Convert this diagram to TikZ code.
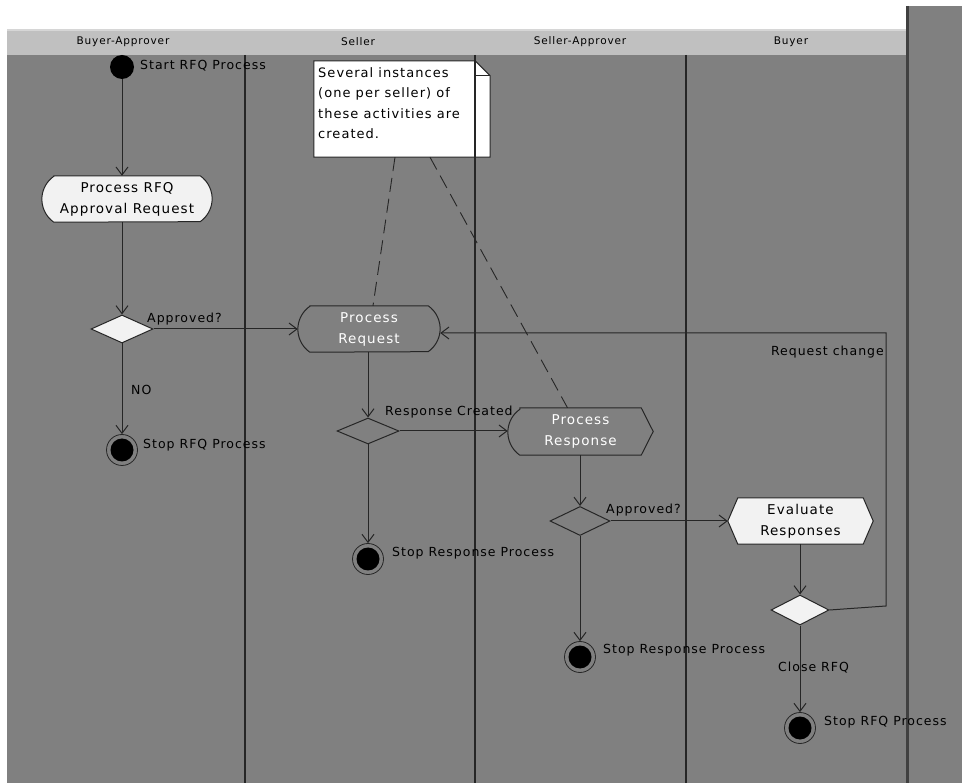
\documentclass[tikz,border=0pt]{standalone}
\usepackage{fontspec}
\setmainfont{DejaVu Sans}[LetterSpace=8]
\usetikzlibrary{arrows.meta,shapes.geometric}

\definecolor{canvas}{HTML}{808080}
\definecolor{headband}{HTML}{C0C0C0}
\definecolor{headhi}{HTML}{D6D6D6}
\definecolor{ink}{HTML}{262626}
\definecolor{edge}{HTML}{404040}
\definecolor{paper}{HTML}{F2F2F2}

\begin{document}
\begin{tikzpicture}[x=1pt,y=-1pt,
  flow/.style={draw=ink, line width=1pt, -{Straight Barb[length=8pt,width=12pt]}},
  lane/.style={draw=black!85, line width=1.2pt},
  frame/.style 2 args={rectangle, inner sep=0pt, minimum width=#1, minimum height=#2},
  actwhite/.style={draw=ink, line width=1pt, fill=paper},
  actgray/.style={draw=ink, line width=1pt, fill=canvas},
  acttext/.style={inner sep=0pt, align=center, font=\fontsize{13.5}{21}\selectfont},
  gate/.style={diamond, draw=ink, line width=1pt, inner sep=0pt},
  startmark/.style={circle, fill=black, inner sep=0pt, minimum size=24pt},
  stopmark/.style={circle, draw=ink, line width=0.8pt, inner sep=0pt, minimum size=31pt},
  lbl/.style={inner sep=0pt, anchor=west, text=black, font=\fontsize{12.5}{15}\selectfont},
  lanehead/.style={inner sep=0pt, text=black, font=\fontsize{10.5}{12}\selectfont},
  notetext/.style={anchor=north west, align=left, inner sep=0pt, font=\fontsize{13}{20.5}\selectfont},
  dashlink/.style={draw=ink, line width=0.9pt, dash pattern=on 14pt off 7pt}
]
\useasboundingbox (0,0) rectangle (962,783);
\fill[white] (0,0) rectangle (962,783);

% swimlane canvas and header band
\fill[canvas] (7,55) rectangle (906,783);
\fill[canvas] (906,6) rectangle (962,783);
\fill[headband] (7,29) rectangle (906,55);
\fill[headhi] (7,29) rectangle (906,31);
\draw[edge, line width=2.5pt] (907.5,6) -- (907.5,783);

\node[lanehead] (hBA) at (123,42) {Buyer-Approver};
\node[lanehead] (hS)  at (358,42) {Seller};
\node[lanehead] (hSA) at (580,42) {Seller-Approver};
\node[lanehead] (hB)  at (791,42) {Buyer};

% note about per-seller instances
\node[frame={176}{96}] (note) at (402,109) {};
\draw[ink, line width=1pt, fill=white]
  (note.north west) -- ([xshift=-15pt]note.north east) -- ([yshift=-15pt]note.north east)
  -- (note.south east) -- (note.south west) -- cycle;
\draw[ink, line width=1pt]
  ([xshift=-15pt]note.north east) -- ([xshift=-15pt,yshift=-15pt]note.north east) -- ([yshift=-15pt]note.north east);
\node[notetext] (note-t) at (318,67) {Several instances\\(one per seller) of\\these activities are\\created.};

% lane separators
\draw[lane] (245,55) -- (245,783);
\draw[lane] (475,55) -- (475,783);
\draw[lane] (686,55) -- (686,783);

% activities
\node[frame={170}{46}] (pa) at (127,199) {};
\path[actwhite] ([xshift=12pt]pa.north west) -- ([xshift=-12pt]pa.north east)
  arc[start angle=55,end angle=-55,radius=28pt] -- ([xshift=12pt]pa.south west)
  arc[start angle=235,end angle=125,radius=28pt] -- cycle;
\node[acttext, text=black] (pa-t) at (pa) {Process RFQ\\Approval Request};

\node[frame={142}{46}] (pr) at (369,329) {};
\path[actgray] ([xshift=12pt]pr.north west) -- ([xshift=-12pt]pr.north east)
  arc[start angle=55,end angle=-55,radius=28pt] -- ([xshift=12pt]pr.south west)
  arc[start angle=235,end angle=125,radius=28pt] -- cycle;
\node[acttext, text=white] (pr-t) at (pr) {Process\\Request};

\node[frame={145}{47}] (prs) at (580.5,431.5) {};
\path[actgray] ([xshift=12pt]prs.north west) -- ([xshift=-12pt]prs.north east)
  -- (prs.east) -- ([xshift=-12pt]prs.south east) -- ([xshift=12pt]prs.south west)
  arc[start angle=235,end angle=125,radius=28pt] -- cycle;
\node[acttext, text=white] (prs-t) at (prs) {Process\\Response};

\node[frame={145}{46}] (ev) at (800.5,521) {};
\path[actwhite] ([xshift=10pt]ev.north west) -- ([xshift=-10pt]ev.north east)
  -- (ev.east) -- ([xshift=-10pt]ev.south east) -- ([xshift=10pt]ev.south west)
  -- (ev.west) -- cycle;
\node[acttext, text=black] (ev-t) at (ev) {Evaluate\\Responses};

% decisions
\node[gate, fill=paper, minimum width=62pt, minimum height=28pt] (d1) at (122,329) {};
\node[gate, fill=canvas, minimum width=62pt, minimum height=26pt] (d2) at (368,431) {};
\node[gate, fill=canvas, minimum width=60pt, minimum height=29pt] (d3) at (580,521) {};
\node[gate, fill=paper, minimum width=58pt, minimum height=30pt] (d4) at (800,610) {};

% start and final states
\node[startmark] (st) at (122,67) {};
\foreach \n/\px/\py in {s1/122/450, s2/368/559, s3/580/657, s4/800/728}{
  \node[stopmark] (\n) at (\px,\py) {};
  \fill[black] (\n) circle[radius=11.5pt];
}

% links from the note
\draw[dashlink] ([xshift=-7pt]note.south) -- ([xshift=4pt]pr.north);
\draw[dashlink] ([xshift=28pt]note.south) -- ([xshift=-13pt]prs.north);

% control flow
\draw[flow] (st) -- (st |- pa.north);
\draw[flow] (pa.south -| d1) -- (d1.north);
\draw[flow] (d1.east) -- (pr.west);
\draw[flow] (d1.south) -- (s1.north);
\draw[flow] (pr.south -| d2) -- (d2.north);
\draw[flow] (d2.east) -- (d2.east -| prs.west);
\draw[flow] (d2.south) -- (s2.north);
\draw[flow] (prs.south -| d3) -- (d3.north);
\draw[flow] (d3.east) -- (ev.west);
\draw[flow] (d3.south) -- (s3.north);
\draw[flow] (ev.south -| d4) -- (d4.north);
\draw[flow] (d4.south) -- (s4.north);
\coordinate (loopA) at (886,606);
\coordinate (loopB) at (886,333);
\draw[flow] (d4.east) -- (loopA) -- (loopB) -- (loopB -| pr.east);

% labels
\node[lbl] (l-start) at (140,66) {Start RFQ Process};
\node[lbl] (l-ok1) at (147,319) {Approved?};
\node[lbl] (l-no) at (131,390) {NO};
\node[lbl] (l-stop1) at (143,445) {Stop RFQ Process};
\node[lbl] (l-resp) at (385,412) {Response Created};
\node[lbl] (l-stop2) at (392,553) {Stop Response Process};
\node[lbl] (l-ok2) at (606,510) {Approved?};
\node[lbl] (l-stop3) at (603,650) {Stop Response Process};
\node[lbl] (l-close) at (778,668) {Close RFQ};
\node[lbl] (l-stop4) at (824,722) {Stop RFQ Process};
\node[lbl, anchor=east] (l-change) at (884,352) {Request change};
\end{tikzpicture}
\end{document}
